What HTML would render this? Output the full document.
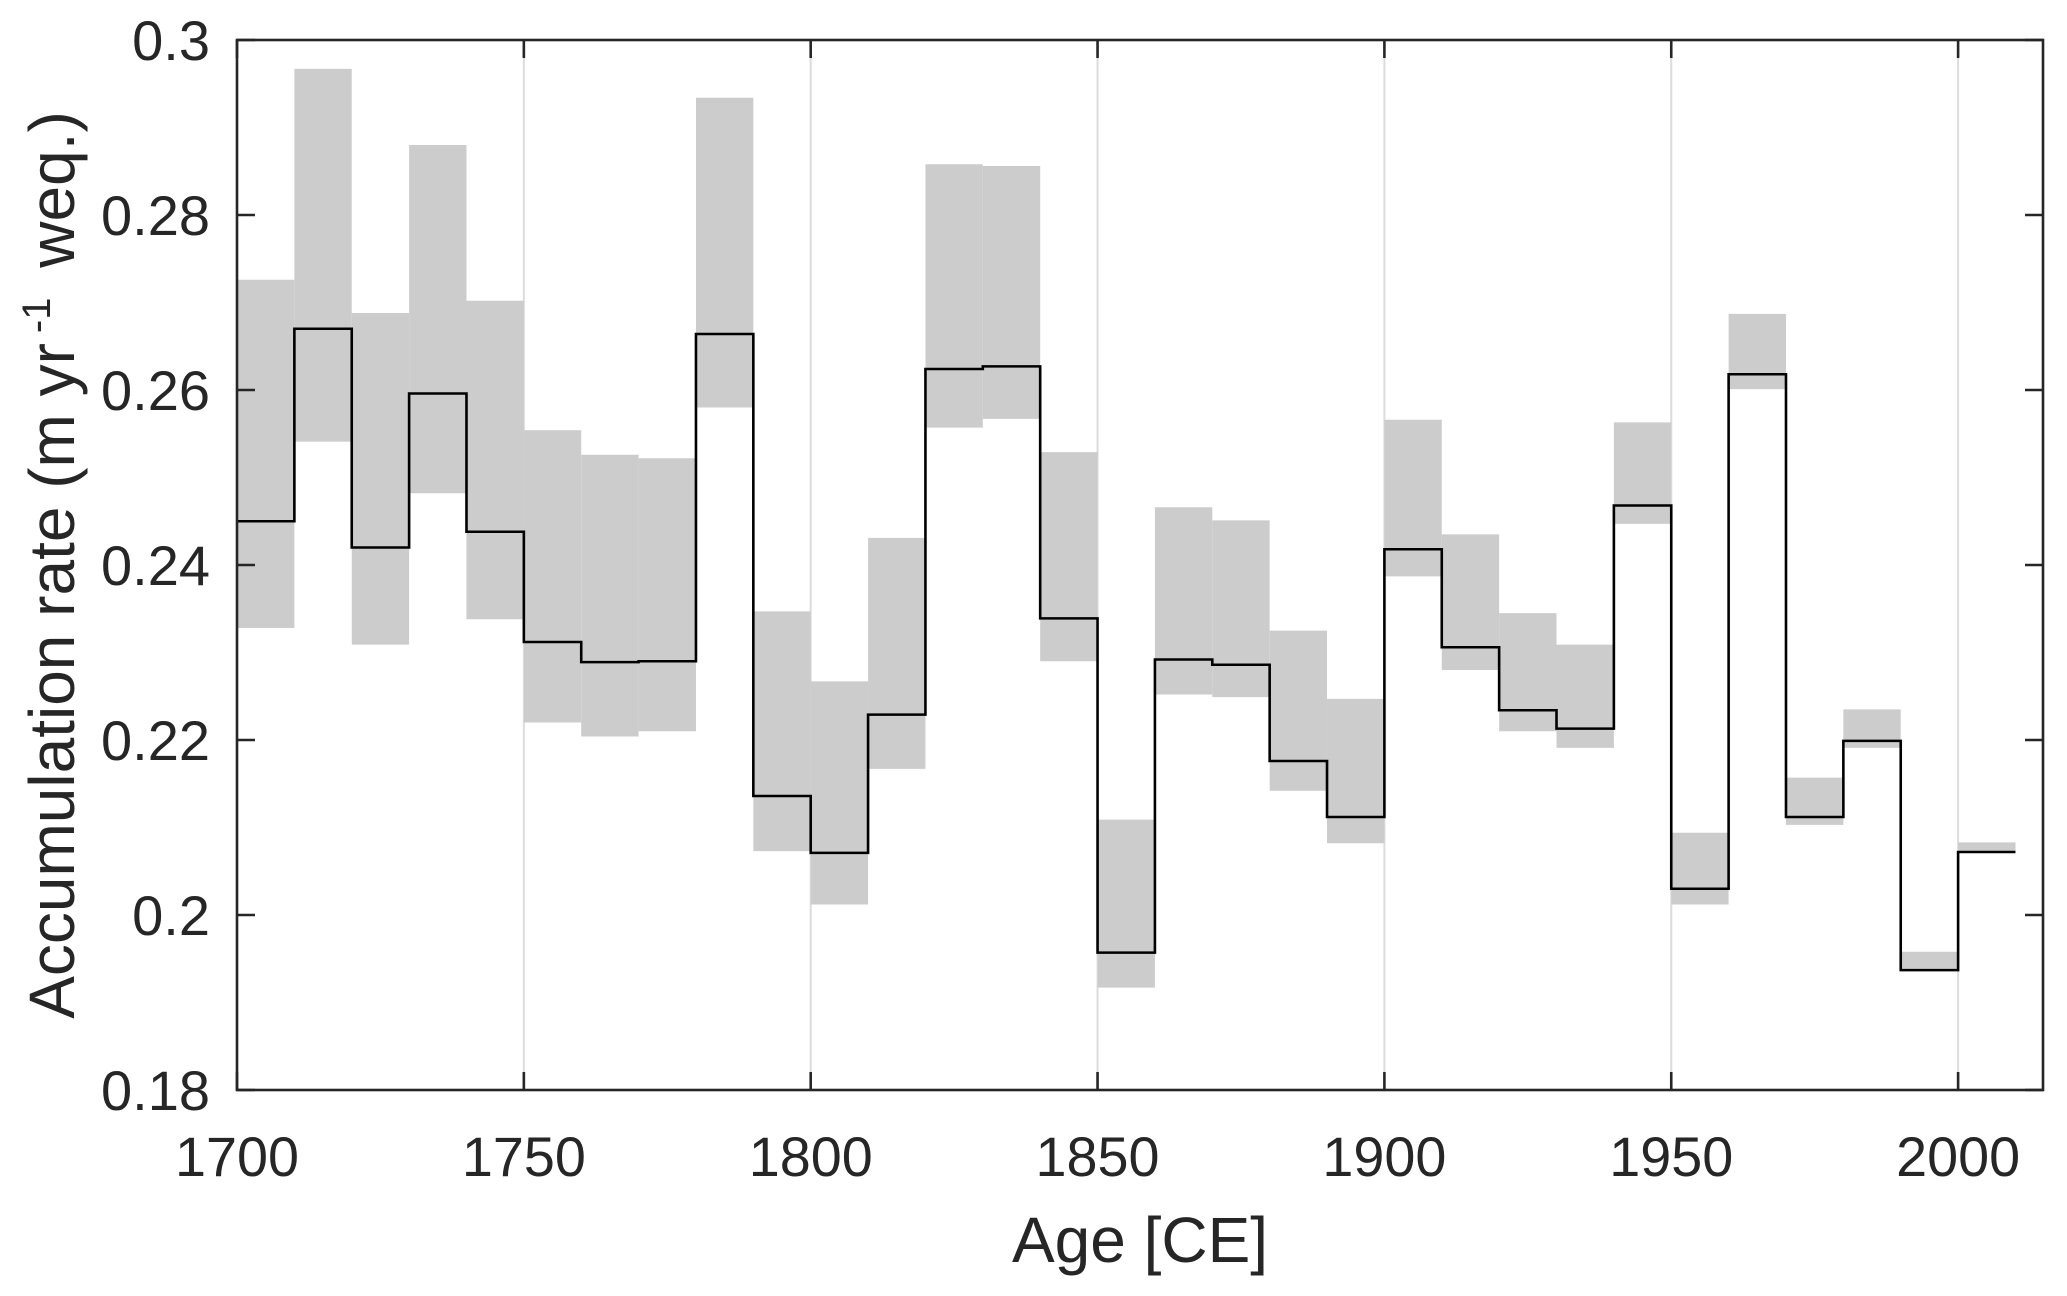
<!DOCTYPE html>
<html><head><meta charset="utf-8"><style>
html,body{margin:0;padding:0;background:#fff;}
svg text{font-family:"Liberation Sans",Arial,sans-serif;fill:#262626;}
</style></head><body>
<svg id="chart" width="2067" height="1291" viewBox="0 0 2067 1291" xmlns="http://www.w3.org/2000/svg">
<g id="grid"></g><g id="bands"></g><g id="line"></g><g id="axes"></g>
</svg>
<script>
const decades = [1700,1710,1720,1730,1740,1750,1760,1770,1780,1790,1800,1810,1820,1830,1840,1850,1860,1870,1880,1890,1900,1910,1920,1930,1940,1950,1960,1970,1980,1990,2000];
const rateValues = [0.2450,0.2670,0.2420,0.2596,0.2438,0.2312,0.2289,0.2290,0.2664,0.2136,0.2071,0.2229,0.2624,0.2627,0.2339,0.1957,0.2292,0.2286,0.2176,0.2112,0.2418,0.2306,0.2234,0.2213,0.2468,0.2030,0.2618,0.2112,0.2199,0.1937,0.2072];
const bandHigh = [0.2726,0.2967,0.2688,0.2880,0.2702,0.2554,0.2526,0.2522,0.2934,0.2347,0.2267,0.2431,0.2858,0.2856,0.2529,0.2109,0.2466,0.2451,0.2325,0.2247,0.2566,0.2435,0.2345,0.2309,0.2563,0.2094,0.2687,0.2157,0.2235,0.1958,0.2083];
const bandLow = [0.2328,0.2541,0.2309,0.2482,0.2338,0.2220,0.2204,0.2210,0.2580,0.2073,0.2012,0.2167,0.2557,0.2567,0.2290,0.1917,0.2252,0.2249,0.2142,0.2082,0.2387,0.2280,0.2210,0.2191,0.2447,0.2012,0.2601,0.2103,0.2191,0.1937,0.2071];
const xTicks = [1700,1750,1800,1850,1900,1950,2000];
const yTicks = [0.18,0.2,0.22,0.24,0.26,0.28,0.3];
const yTickLabels = ["0.18","0.2","0.22","0.24","0.26","0.28","0.3"];
const binWidth = 10;

const L=237,R=2043,T=40,B=1090;
const X0=1700,X1=1700+(R-L)/5.737;
const x=v=>L+(v-X0)/(X1-X0)*(R-L);
const y=v=>B-(v-0.18)/(0.3-0.18)*(B-T);
const NS="http://www.w3.org/2000/svg";
function mk(parent,tag,attrs){const e=document.createElementNS(NS,tag);for(const k in attrs)e.setAttribute(k,attrs[k]);document.getElementById(parent).appendChild(e);return e;}

xTicks.forEach(t=>{
  const g=mk('grid','line',{x1:x(t),x2:x(t),y1:T,y2:B,stroke:'#dcdcdc','stroke-width':2});
  
  
});
decades.forEach((d,i)=>{
  const r=mk('bands','rect',{x:x(d),width:x(d+binWidth)-x(d),y:y(bandHigh[i]),height:y(bandLow[i])-y(bandHigh[i]),fill:'#cccccc'});
  
  
});
let p='';
decades.forEach((d,i)=>{p+=(i?'L':'M')+x(d)+','+y(rateValues[i])+'L'+x(d+binWidth)+','+y(rateValues[i]);});
const ln=mk('line','path',{d:p,fill:'none',stroke:'#000','stroke-width':2.6});



const box=mk('axes','rect',{x:L,y:T,width:R-L,height:B-T,fill:'none',stroke:'#262626','stroke-width':2.6});


xTicks.forEach(t=>{
  mk('axes','line',{x1:x(t),x2:x(t),y1:B,y2:B-18,stroke:'#262626','stroke-width':2.6});
  mk('axes','line',{x1:x(t),x2:x(t),y1:T,y2:T+18,stroke:'#262626','stroke-width':2.6});
  const tx=mk('axes','text',{x:x(t),y:1176,'text-anchor':'middle','font-size':56,'textLength':124,'lengthAdjust':'spacingAndGlyphs'});
  tx.textContent=t;
  
  
});
yTicks.forEach((t,i)=>{
  mk('axes','line',{x1:L,x2:L+18,y1:y(t),y2:y(t),stroke:'#262626','stroke-width':2.6});
  mk('axes','line',{x1:R,x2:R-18,y1:y(t),y2:y(t),stroke:'#262626','stroke-width':2.6});
  const tx=mk('axes','text',{x:210,y:y(t)+20,'text-anchor':'end','font-size':56});
  tx.textContent=yTickLabels[i];
  
  
});
const xt=mk('axes','text',{x:(L+R)/2,y:1262,'text-anchor':'middle','font-size':64});
xt.textContent='Age [CE]';


const yt=mk('axes','text',{x:0,y:0,'text-anchor':'middle','font-size':64,transform:'translate(74,'+((T+B)/2)+') rotate(-90)'});
yt.innerHTML='Accumulation rate (m yr<tspan dx="10" dy="-24" font-size="40">-1</tspan><tspan dx="12" dy="24"> weq.)</tspan>';


</script>
</body></html>
